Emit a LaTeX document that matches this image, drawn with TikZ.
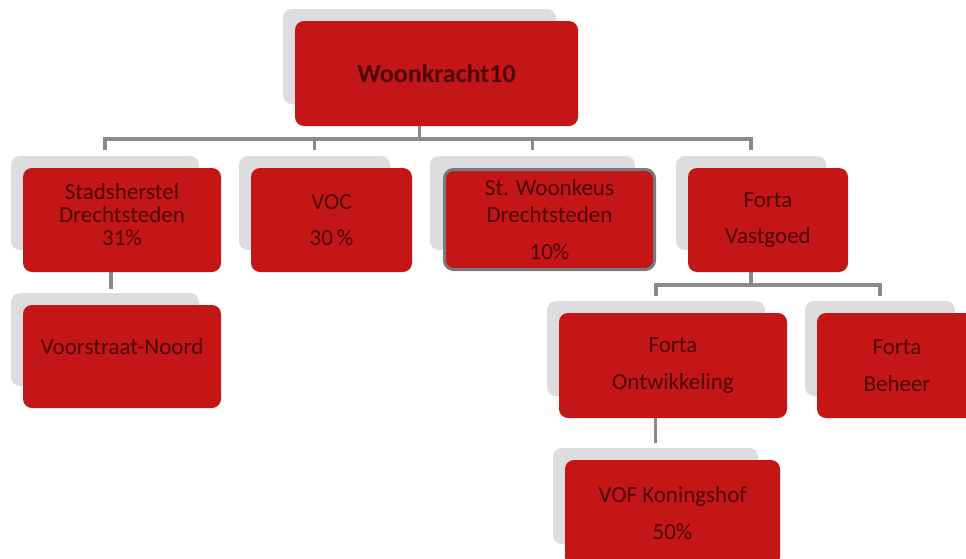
\documentclass[tikz,border=0pt]{standalone}
\usepackage{fontspec}
\setmainfont{Carlito}
\usetikzlibrary{calc}
\definecolor{boxred}{HTML}{C41517}
\definecolor{shgray}{HTML}{DDDCDF}
\definecolor{conngray}{HTML}{8A8A8A}
\definecolor{txtred}{HTML}{4E0707}
\definecolor{bordergray}{HTML}{7A7A7A}
\tikzset{
  redbox/.style={fill=boxred, rounded corners=9pt, inner sep=0pt, text=txtred,
    font=\fontsize{23}{23}\selectfont, align=center},
  shadowbox/.style={fill=shgray, rounded corners=9pt, inner sep=0pt},
  conn/.style={draw=conngray, line width=3.4pt},
}
\begin{document}
\begin{tikzpicture}[x=1pt,y=-1pt]
\useasboundingbox (0,0) rectangle (966,558);
\fill[white] (0,0) rectangle (966,558);
% shadows
\node[shadowbox, minimum width=273pt, minimum height=95pt] (rootS) at (419.5,56.5) {};
\node[shadowbox, minimum width=188pt, minimum height=94pt] (sS) at (105,203) {};
\node[shadowbox, minimum width=151pt, minimum height=94pt] (vS) at (314.5,203) {};
\node[shadowbox, minimum width=205pt, minimum height=94pt] (wS) at (532.5,203) {};
\node[shadowbox, minimum width=150pt, minimum height=94pt] (fvS) at (751,203) {};
\node[shadowbox, minimum width=188pt, minimum height=93pt] (vnS) at (105,339.5) {};
\node[shadowbox, minimum width=218pt, minimum height=95pt] (foS) at (656,348.5) {};
\node[shadowbox, minimum width=150pt, minimum height=95pt] (fbS) at (880,348.5) {};
\node[shadowbox, minimum width=205pt, minimum height=96pt] (vofS) at (655.5,496) {};
\coordinate (bus1) at (0,139);
\coordinate (bus2) at (0,285);
% connectors
\draw[conn] (rootS |- 0,120) -- (rootS |- bus1);
\draw[conn] ($(sS.north)+(0,-6)$) |- (fvS |- bus1) -- ($(fvS.north)+(0,-6)$);
\draw[conn] (vS |- bus1) -- ($(vS.north)+(0,-6)$);
\draw[conn] (wS |- bus1) -- ($(wS.north)+(0,-6)$);
\draw[conn] ($(vnS.north)+(6,-4)$) -- ($(vnS.north)+(6,-30)$);
\draw[conn] ($(fvS.north)+(0,60)$) -- (fvS |- bus2);
\draw[conn] ($(foS.north)+(0,-5)$) |- (fbS |- bus2) -- ($(fbS.north)+(0,-5)$);
\draw[conn] ($(vofS.north)+(0,-30)$) -- ($(vofS.north)+(0,-5)$);
% red boxes
\node[redbox, minimum width=283pt, minimum height=105pt, font=\bfseries\fontsize{26}{26}\selectfont] (rootR) at (436.5,73.5) {Woonkracht10};
\node[redbox, minimum width=198pt, minimum height=104pt, text depth=10pt] (sR) at (122,220) {Stadsherstel\\Drechtsteden\\31\%};
\node[redbox, minimum width=161pt, minimum height=104pt] (vR) at (331.5,220) {VOC\\[13pt]30\,\%};
\node[redbox, draw=bordergray, line width=3pt, minimum width=210pt, minimum height=100pt] (wR) at (549.5,219.5) {St. Woonkeus\\[4pt]Drechtsteden\\[14pt]10\%};
\node[redbox, minimum width=160pt, minimum height=104pt] (fvR) at (768,220) {Forta\\[13pt]Vastgoed};
\node[redbox, minimum width=198pt, minimum height=103pt, text depth=19pt] (vnR) at (122,356.5) {Voorstraat-Noord};
\node[redbox, minimum width=228pt, minimum height=105pt] (foR) at (673,365.5) {Forta\\[14pt]Ontwikkeling};
\node[redbox, minimum width=160pt, minimum height=105pt] (fbR) at (897,365.5) {Forta\\[14pt]Beheer};
\node[redbox, minimum width=215pt, minimum height=106pt] (vofR) at (672.5,513) {VOF Koningshof\\[14pt]50\%};
\end{tikzpicture}
\end{document}
